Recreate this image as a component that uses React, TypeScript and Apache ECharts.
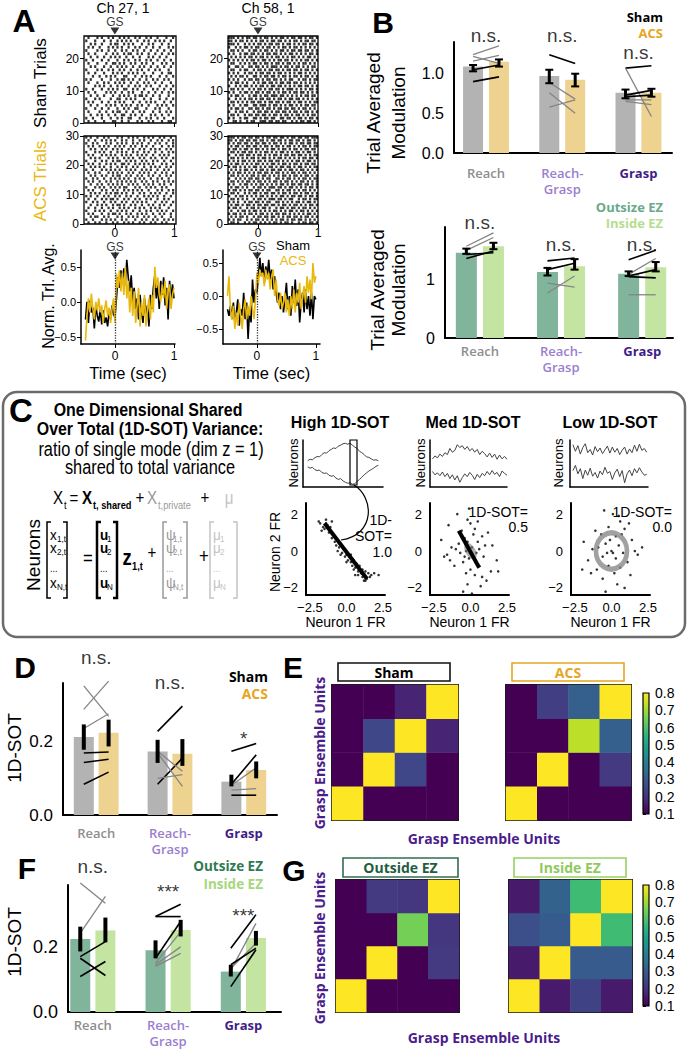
import React, { useEffect, useRef } from "react";
import * as echarts from "echarts";

const FONT = "'Liberation Sans', Arial, sans-serif";
const SEMI = "'Open Sans', 'Liberation Sans', sans-serif";
const NARROW_SCALE = 0.84;

// ---------------- Panel A data ----------------
const traceStart = -0.5;
const traceStep = 0.025;
const traceXTicks = [0, 1];
const traceYTicks = [-0.5, 0, 0.5];
const ch27Sham = [
  -0.25, 0.0, -0.3, 0.02, -0.15, -0.08, -0.38, -0.05, -0.2, -0.28,
  -0.1, -0.32, -0.12, -0.3, -0.22, -0.35, -0.15, -0.25, -0.05, -0.18,
  -0.22, 0.05, 0.35, 0.2, 0.45, 0.3, 0.48, 0.25, 0.6, 0.35,
  0.15, 0.38, 0.0, 0.2, -0.1, 0.05, -0.25, 0.1, -0.15, -0.3,
  0.05, -0.2, -0.05, -0.35, 0.1, -0.1, 0.2, 0.38, 0.05, 0.25,
  -0.1, 0.3, 0.1, 0.35, -0.05, 0.2, -0.25, 0.3, 0.05, 0.25,
  0.05,
];
const ch27Acs = [
  -0.55, -0.2, 0.05, -0.15, 0.12, -0.1, -0.25, 0.0, -0.12, 0.05,
  -0.15, -0.05, -0.3, -0.1, 0.02, -0.2, -0.08, -0.3, -0.1, 0.05,
  -0.3, 0.4, 0.2, 0.45, 0.15, 0.42, 0.1, 0.5, 0.05, 0.3,
  -0.15, 0.2, -0.2, 0.15, -0.3, -0.05, 0.2, -0.35, 0.0, -0.2,
  0.1, -0.35, -0.1, 0.05, -0.25, 0.1, -0.15, 0.5, 0.2, 0.35,
  0.1, 0.0, 0.25, 0.05, 0.3, -0.1, 0.15, 0.25, -0.1, 0.1,
  0.2,
];
const ch58Sham = [
  -0.2, -0.3, -0.15, -0.35, -0.1, -0.4, -0.25, -0.05, -0.45, -0.2,
  -0.3, 0.05, -0.35, -0.1, -0.65, -0.2, -0.4, 0.25, -0.1, 0.1,
  0.05, 0.3, 0.58, 0.3, 0.5, 0.2, 0.45, 0.3, 0.55, 0.25,
  0.4, 0.1, 0.3, 0.05, -0.1, 0.05, -0.2, 0.0, -0.25, -0.05,
  0.2, -0.2, 0.0, -0.3, 0.15, -0.1, 0.25, -0.15, 0.1, -0.4,
  -0.1, 0.05, -0.25, 0.1, -0.2, 0.0, -0.3, 0.05, -0.35, 0.0,
  -0.05,
];
const ch58Acs = [
  0.0, 0.3, -0.2, -0.35, -0.15, -0.5, -0.25, -0.45, -0.1, -0.3,
  -0.5, -0.2, -0.05, -0.35, -0.15, -0.3, 0.0, -0.2, -0.35, -0.05,
  0.35, 0.2, 0.4, 0.3, 0.35, 0.15, 0.4, 0.25, 0.35, 0.1,
  0.3, 0.4, 0.0, 0.25, -0.05, -0.15, 0.05, -0.2, -0.1, 0.05,
  -0.25, -0.05, -0.3, 0.0, -0.2, 0.1, -0.25, 0.05, -0.1, 0.2,
  -0.2, 0.0, 0.15, -0.1, 0.3, 0.05, 0.25, -0.05, 0.5, 0.2,
  0.3,
];

// spike rasters: one string per trial (bottom trial first), '1' = spike in a bin from -0.5 s to 1.0 s
const rasterStart = -0.5;
const rasterEnd = 1.0;
const rasterXTicks = [0, 1];
const shamTrialTicks = [0, 10, 20];
const acsTrialTicks = [0, 10, 20, 30];
const rasterCh27Sham = [
  "0100100010 0011001001 0001010010 1000100110", "1001000100 0100101001 1000100101 0010010001",
  "0010010100 1001001100 1010010001 0100100100", "0100001001 0010110010 0100101000 1001001010",
  "1000100100 1000100101 0011000100 0101000100", "0010010001 0101001010 1001010010 0010101001",
  "0101000100 1001010100 0100100101 0100010010", "1000101000 0100110010 1010001001 0001001001",
  "0010010010 0010010101 0010110100 1001000100", "0100100001 0101001001 0100010010 0100100101",
  "1001000100 1010100110 0101001000 1010010010", "0000101010 0100101001 0010100101 0001001001",
  "0100010010 1001010100 1001001010 0100100010", "1010000100 0100101101 0100100100 1010010100",
  "0001001001 0101000110 0010010101 0001001001", "0100100010 0010101001 0101001000 1000100110",
  "1000010100 1010010100 1001010010 0101000100", "0010100010 0100101010 0100101001 0010010010",
  "0100010001 0011010100 1010010100 1000101001", "1001000100 1000100101 0010100101 0010010010",
  "0010010010 0101010010 0100100010 1001001000", "0100100001 0010100101 1001010010 0100100101",
  "1000010100 1001001010 0101001001 0010010010", "0101001000 1010101001 0010100100 1001000101",
  "0010100100 0101100101 0100010010 1000100100", "1000100010 0100101010 1001001010 0101010010",
  "0100010100 1010010101 0010100101 0010001001",
];
const rasterCh58Sham = [
  "0011010010 1100111011 0110110010 1011011010", "1010010110 0110101101 1001101101 0110101101",
  "0110100101 1011011010 1101011010 1101010110", "1001011010 0101101101 0110110101 1010110101",
  "0101101001 1011010110 1011011011 0101101010", "1010010110 0110111010 1101010110 1010110110",
  "0110101010 1101101011 0110101101 0110101011", "1001010101 1010110110 1011010110 1101010101",
  "0101101001 0110101101 1101101010 1010110110", "1010010110 1011010110 1010110101 1011010101",
  "0110101001 0101101011 0110101110 1010101101", "1001010110 1010110101 1011010101 0110110101",
  "0101101010 0101011011 0101101101 1010101010", "1010100101 1011010110 1101010110 0101101011",
  "0101011010 0110101101 1010110101 1010110101", "1010100101 1010110110 1011010101 0110101010",
  "0110010110 0101101011 0110101101 1010110101", "1001101001 1011010101 1101011010 1101010110",
  "0110010101 0110101101 0110101101 0101101010", "1010101010 1101011010 1011011010 1010110101",
  "0101010101 1010110101 0110101011 0101011010", "1010010110 1101010110 1101010110 1010101101",
  "0110101001 0110101101 0101101011 0110110101", "1001010110 1011010110 1010110101 1010101010",
  "1110100101 0101101011 0110101101 0101101101", "1101011010 1010110101 1011010101 1010110110",
  "1110101011 0110101101 0101101011 0110101101",
];
const rasterCh27Acs = [
  "0100101001 0010100101 0100101001 0100101000", "1001000101 0101001010 0010010100 1010010101",
  "0010110010 1000101001 0101001010 0100100010", "0101000100 1011010010 1001010100 1001010010",
  "1000101010 0100101010 0100100101 0010101001", "0100100100 1010010101 0010101001 0101000100",
  "0010010101 0010110100 1010010010 1001010010", "1001010010 0101001010 0101010100 0100101001",
  "0100100101 0110100101 0010100101 0010010100", "1010010010 1001010010 1001001010 1010010010",
  "0010101001 0101101010 0100101001 0101001001", "0101000101 0010100101 0101010010 0010100101",
  "1000101010 0101010110 0010100101 0100101000", "0010010100 1010101001 0101001010 1001010010",
  "0101001001 0100101010 1010010100 1010010101", "1001010010 0101010101 0010101001 0010100100",
  "0010100101 0010110010 1001010010 1001001010", "0100101000 1010101001 0100101010 0100101001",
  "1001000101 0101010010 1010010101 0010010100", "0010101010 0100101010 0101001001 0101001010",
  "0101001001 0101001101 0010101010 1000101001", "1000100101 0010110010 1010010100 1010010010",
  "0010101000 1010100101 0100101001 0100101001", "0101000101 0101001010 1001010100 1001010100",
  "1000101010 0100101010 0101001010 0100100101", "0010100101 0010101001 0100101001 0101001010",
  "0101001010 1001010100 1010010100 1000100101", "1001010001 0100101010 0101010010 0101001001",
  "0100100101 0101001010 0100101001 0010100101", "1010010010 1000101001 0101001010 1001010010",
];
const rasterCh58Acs = [
  "0110100101 0110101010 1101011010 0101101101", "1010110010 1011010101 0101101011 0110101010",
  "0101011010 0101101101 1010101101 1010110101", "1011010101 1010110101 0110110101 0101011010",
  "0100101101 0110101010 1101010110 1011010101", "1011010010 1101011010 0101101011 0101101010",
  "0101101011 0101101101 1010110101 1010101101", "1010100101 1011010110 0110101010 1101011010",
  "0110101010 0101101011 1011010110 0101101011", "1001011010 1010110101 0101101011 0110101101",
  "0110100101 0110101101 1010110101 1010110101", "1011010101 1011010110 0110101101 0101101010",
  "0101101010 0101101011 1011010110 1010101101", "1010010110 1010110101 0101101011 0110110101",
  "0110101011 0101101010 1101011010 1011010101", "1001010101 1011010110 0110101101 0101101011",
  "0110101010 1101011010 1010110101 1010110101", "1010110101 0101101101 0110101011 0101101010",
  "0101010110 1010110101 1011010110 1011010101", "1011010101 0110101011 0101101101 0110101011",
  "0101101010 1011010101 1010110101 1010110110", "1010101101 0101101011 0110101010 1101011010",
  "0110101010 1101011010 1011010101 0101101101", "1001011011 0101101010 1101011011 0110101011",
  "0110101101 1010101101 0101101010 1101011010", "1011010110 1011010101 1010110101 1010110110",
  "0101101011 0110101101 0110101101 0101101011", "1010110110 1011011010 1101010110 1011011011",
  "1101011011 0110110101 1011010110 1101011010", "1110101101 1011010110 1101101011 0110110111",
];

// ---------------- Bar panels (B, D, F) ----------------
const categories = ["Reach", "Reach-\nGrasp", "Grasp"];
// pairs: [category, first-condition value, second-condition value, gray(1)/black(0)]
const modSham = [1.09, 0.97, 0.76];
const modAcs = [1.15, 0.925, 0.76];
const modShamErr = [[1.03, 1.11], [0.88, 1.05], [0.69, 0.8]];
const modAcsErr = [[1.09, 1.18], [0.84, 1.0], [0.71, 0.81]];
const modPairs = [
  [0, 1.24, 1.35, 1], [0, 1.16, 1.23, 1], [0, 1.22, 1.13, 1], [0, 1.05, 1.11, 0], [0, 0.9, 0.96, 0],
  [1, 1.24, 1.13, 0], [1, 0.89, 0.68, 1], [1, 0.58, 0.67, 1], [1, 0.76, 0.5, 1],
  [2, 1.07, 1.1, 0], [2, 1.07, 0.46, 1], [2, 0.73, 0.79, 0], [2, 0.71, 0.73, 0], [2, 0.67, 0.67, 1], [2, 0.65, 0.61, 1],
];
const modSig = ["n.s.", "n.s.", "n.s."];
const modSigY = [1.48, 1.48, 1.27];
const modTicks = [0, 0.5, 1.0];

const ezModOut = [1.46, 1.13, 1.1];
const ezModIn = [1.57, 1.23, 1.21];
const ezModOutErr = [[1.44, 1.53], [1.07, 1.2], [1.06, 1.14]];
const ezModInErr = [[1.52, 1.63], [1.17, 1.35], [1.14, 1.3]];
const ezModPairs = [
  [0, 1.57, 1.8, 1], [0, 1.5, 1.72, 1], [0, 1.36, 1.49, 0], [0, 1.43, 1.46, 0],
  [1, 1.32, 1.37, 0], [1, 1.17, 1.28, 0], [1, 0.94, 0.87, 1], [1, 0.77, 1.06, 1],
  [2, 1.34, 1.5, 0], [2, 1.09, 1.36, 1], [2, 1.05, 1.03, 0], [2, 1.06, 1.17, 0], [2, 0.74, 0.74, 1],
];
const ezModSig = ["n.s.", "n.s.", "n.s."];
const ezModSigY = [1.98, 1.6, 1.6];
const ezModTicks = [0, 1];

const sotSham = [0.213, 0.173, 0.091];
const sotAcs = [0.224, 0.167, 0.123];
const sotShamErr = [[0.178, 0.247], [0.142, 0.205], [0.078, 0.11]];
const sotAcsErr = [[0.187, 0.26], [0.134, 0.207], [0.1, 0.146]];
const sotPairs = [
  [0, 0.352, 0.269, 1], [0, 0.288, 0.365, 1], [0, 0.236, 0.276, 1], [0, 0.169, 0.172, 0], [0, 0.143, 0.152, 0], [0, 0.084, 0.117, 0],
  [1, 0.228, 0.297, 0], [1, 0.084, 0.155, 0], [1, 0.169, 0.078, 1], [1, 0.1, 0.11, 1], [1, 0.174, 0.119, 1],
  [2, 0.174, 0.195, 0], [2, 0.084, 0.164, 0], [2, 0.081, 0.129, 1], [2, 0.068, 0.072, 1], [2, 0.054, 0.054, 0],
];
const sotSig = ["n.s.", "n.s.", "*"];
const sotSigY = [0.43, 0.362, 0.208];
const sotTicks = [0, 0.2];

const ezSotOut = [0.224, 0.19, 0.124];
const ezSotIn = [0.25, 0.252, 0.227];
const ezSotOutErr = [[0.186, 0.262], [0.165, 0.22], [0.109, 0.145]];
const ezSotInErr = [[0.214, 0.29], [0.232, 0.283], [0.204, 0.249]];
const ezSotPairs = [
  [0, 0.396, 0.334, 1], [0, 0.242, 0.355, 1], [0, 0.17, 0.216, 0], [0, 0.165, 0.112, 0], [0, 0.109, 0.155, 0],
  [1, 0.293, 0.331, 0], [1, 0.293, 0.293, 0], [1, 0.165, 0.278, 0], [1, 0.145, 0.2, 1], [1, 0.14, 0.18, 1], [1, 0.15, 0.246, 1],
  [2, 0.196, 0.299, 0], [2, 0.078, 0.191, 0], [2, 0.134, 0.211, 1], [2, 0.128, 0.272, 1], [2, 0.145, 0.196, 0],
];
const ezSotSig = ["n.s.", "***", "***"];
const ezSotSigY = [0.446, 0.369, 0.295];

// ---------------- Panel C data ----------------
const highTop = [5.6, 5.9, 5.8, 6.2, 6.5, 6.4, 6.9, 7.3, 7.2, 7.7, 8.0, 8.3, 8.2, 8.7, 8.9, 9.2, 9.3, 9.1, 9.3, 8.9, 8.5, 8.2, 7.6, 7.3, 6.9, 6.4, 6.3, 6.0, 5.7, 5.8, 5.6];
const highBottom = [4.3, 4.0, 4.2, 3.7, 3.5, 3.6, 3.1, 2.9, 3.0, 2.5, 2.3, 2.4, 1.9, 1.6, 1.8, 1.3, 1.0, 0.8, 0.9, 0.6, 0.7, 1.2, 1.6, 2.1, 2.6, 3.0, 3.4, 3.7, 4.0, 4.4, 4.6];
const medTop = [6.0, 6.6, 6.2, 7.0, 6.5, 7.3, 6.9, 8.2, 7.4, 7.8, 9.0, 8.4, 8.8, 8.0, 8.6, 7.7, 8.2, 7.4, 8.0, 6.9, 7.6, 7.1, 6.4, 7.2, 6.3, 7.0, 5.9, 6.8, 6.0, 6.5, 5.9];
const medBottom = [3.3, 2.6, 3.0, 2.4, 3.2, 2.2, 2.9, 1.8, 2.6, 1.5, 2.4, 1.0, 2.0, 2.8, 2.2, 3.1, 2.5, 1.6, 2.7, 2.0, 2.9, 2.4, 3.3, 2.6, 3.5, 2.7, 3.1, 2.2, 3.4, 2.9, 2.5];
const lowTop = [9.0, 7.6, 8.8, 7.0, 8.4, 9.2, 7.3, 8.0, 6.8, 8.6, 7.5, 8.3, 7.1, 7.9, 8.7, 7.2, 8.5, 7.4, 8.2, 6.9, 7.8, 8.5, 7.0, 8.1, 7.3, 8.9, 7.6, 9.1, 7.8, 8.2, 7.4];
const lowBottom = [3.5, 4.6, 2.8, 3.9, 1.8, 3.6, 2.5, 4.0, 2.3, 3.1, 1.9, 3.4, 2.6, 4.2, 2.9, 3.3, 1.6, 3.0, 3.8, 2.2, 3.5, 0.9, 2.8, 3.6, 2.4, 3.9, 3.0, 4.1, 3.2, 2.5, 2.7];
const highPts = [
  [-1.8, 1.5], [-1.6, 1.3], [-1.4, 1.5], [-1.7, 1.1], [-1.5, 1.2], [-1.3, 1.4], [-1.2, 1.0], [-1.1, 1.3], [-0.9, 0.9], [-1.0, 0.7],
  [-0.8, 0.5], [-0.6, 0.6], [-0.7, 0.3], [-0.5, 0.2], [-0.4, 0.4], [-0.3, -0.1], [-0.6, 0.0], [-0.2, 0.1], [-0.1, -0.3], [0.0, -0.2],
  [0.1, -0.5], [0.2, -0.3], [0.3, -0.6], [0.0, -0.6], [0.4, -0.8], [0.5, -0.5], [0.6, -0.9], [0.7, -0.7], [0.8, -1.1], [0.5, -1.0],
  [0.9, -0.8], [1.0, -1.2], [1.1, -1.0], [0.8, -1.3], [1.2, -1.3], [1.3, -1.1], [1.1, -1.4], [1.4, -1.5], [1.5, -1.2], [1.2, -1.6],
  [1.6, -1.4], [1.7, -1.3], [1.3, -1.6], [2.2, -1.3], [1.9, -1.2], [0.6, -1.3], [-0.4, -0.2], [0.3, -0.2], [-1.4, 1.7], [-1.9, 1.6], [-1.0, 1.6],
];
const medPts = [
  [-0.9, 2.0], [-0.2, 1.7], [0.0, 1.5], [-1.5, 1.4], [0.3, 1.2], [-0.6, 1.1], [0.8, 0.8], [1.2, 1.0], [-2.0, 0.6], [-0.4, 0.7],
  [0.5, 0.5], [1.5, 0.3], [-1.3, 0.2], [-1.6, -0.2], [-1.0, 0.1], [-0.7, -0.1], [-0.3, 0.0], [0.1, 0.2], [0.2, -0.3], [-0.1, -0.4],
  [0.4, -0.1], [0.9, -0.3], [1.8, -0.5], [-0.5, -0.6], [-1.1, -0.8], [0.6, -0.8], [0.0, -1.0], [1.4, -1.1], [-0.3, -1.2], [0.3, -1.3],
  [0.8, -1.4], [-0.2, -1.8], [0.7, -1.9], [-0.5, -2.2], [1.1, -1.6], [-0.8, 0.4], [0.2, 0.9], [-1.4, -0.5], [1.0, 0.3], [0.5, 1.6],
  [-0.1, 2.3], [0.1, -2.3], [-1.8, -0.3], [0.6, 0.1], [-0.4, -0.3], [1.9, -1.1], [-0.2, 0.5],
];
const lowPts = [
  [-0.5, 2.2], [0.1, 2.0], [0.6, 1.6], [-0.2, 1.3], [1.2, 1.5], [0.9, 1.2], [-1.1, 1.1], [-0.7, 0.9], [0.3, 0.8], [1.4, 0.6],
  [-1.9, 0.5], [-0.4, 0.4], [0.5, 0.3], [2.1, 0.2], [-1.3, 0.1], [0.0, 0.0], [0.8, -0.1], [1.6, 0.0], [-0.6, -0.3], [0.3, -0.4],
  [-1.6, -0.5], [-2.0, -1.0], [1.1, -0.6], [-0.2, -0.8], [0.6, -0.9], [-1.0, -1.0], [0.2, -1.2], [1.3, -1.3], [-0.6, -1.5], [0.4, -1.8],
  [-0.4, -2.2], [0.9, -2.0], [-0.1, 0.6], [0.1, -0.1], [-0.9, 0.2], [1.8, -0.2], [-0.3, -0.1], [0.7, 0.9], [-1.4, -1.2], [0.5, 1.9],
];
const highAxisLine = [[-1.5, 1.5], [1.4, -1.5]];
const medAxisLine = [[-0.8, 1.1], [0.6, -0.9]];
const scatterXTicks = [-2.5, 0, 2.5];
const scatterYTicks = [-2, 0, 2];

// ---------------- Heatmaps (E, G): rows listed bottom -> top ----------------
const ensembleUnits = ["1", "2", "3", "4"];
const shamCorr = [[0.8, 0.1, 0.1, 0.1], [0.1, 0.8, 0.25, 0.1], [0.1, 0.25, 0.8, 0.17], [0.1, 0.1, 0.17, 0.8]];
const acsCorr = [[0.8, 0.1, 0.1, 0.1], [0.1, 0.8, 0.1, 0.22], [0.1, 0.1, 0.73, 0.31], [0.1, 0.23, 0.31, 0.8]];
const outsideCorr = [[0.8, 0.1, 0.1, 0.1], [0.1, 0.8, 0.1, 0.22], [0.1, 0.1, 0.65, 0.21], [0.1, 0.22, 0.21, 0.8]];
const insideCorr = [[0.8, 0.15, 0.24, 0.15], [0.15, 0.8, 0.3, 0.3], [0.27, 0.3, 0.8, 0.58], [0.15, 0.32, 0.58, 0.8]];
const colorbarTicks = [0.1, 0.2, 0.3, 0.4, 0.5, 0.6, 0.7, 0.8];
const VIRIDIS = ["#440154", "#482878", "#3e4989", "#31688e", "#26828e", "#1f9e89", "#35b779", "#6ece58", "#b5de2b", "#fde725"];

const C_SHAM = "#b3b3b3";
const C_ACS = "#eed290";
const C_OUT = "#80b49b";
const C_IN = "#c4e4a2";
const C_ACS_TXT = "#e6a523";
const C_YEL = "#e8b80c";

const signed = (v: number, d: number) => (v < 0 ? "\u2212" : "") + Math.abs(v).toFixed(d);

function buildOption() {
  const grid: any[] = [];
  const xAxis: any[] = [];
  const yAxis: any[] = [];
  const series: any[] = [];
  const graphic: any[] = [];
  const heatSeries: number[] = [];

  const addGrid = (g: any, x: any, y: any) => {
    const i = grid.length;
    grid.push({ outerBoundsMode: "none", containLabel: false, ...g });
    xAxis.push({ gridIndex: i, ...x });
    yAxis.push({ gridIndex: i, ...y });
    return i;
  };
  const axis = (o: any) => ({
    type: "value",
    min: o.min,
    max: o.max,
    splitLine: { show: false },
    axisLine: { show: o.line !== false, onZero: false, lineStyle: { color: "#000", width: o.lw ?? 1.5 } },
    axisTick: o.ticks
      ? { show: true, customValues: o.ticks, length: o.tickLen ?? 4, lineStyle: { color: "#000", width: 1 } }
      : { show: false },
    axisLabel: o.labels
      ? { show: true, customValues: o.labels, formatter: o.fmt, fontSize: o.fs ?? 12, color: "#000", margin: o.margin ?? 6, fontFamily: FONT }
      : { show: false },
    ...(o.extra || {}),
  });
  const T = (text: string, x: number, y: number, o: any = {}) => {
    graphic.push({
      type: "text", x, y, rotation: o.rot || 0, scaleX: o.sx || 1, silent: true, z: 100,
      style: {
        text, fill: o.color || "#000", fontSize: o.size || 14, fontFamily: o.family || FONT,
        fontWeight: o.weight || "normal", align: o.align || "center", verticalAlign: o.va || "middle",
        lineHeight: o.lh,
      },
    });
  };
  const gsMarker = (gi: number, yTop: number, dy: number) => ({
    type: "scatter", xAxisIndex: gi, yAxisIndex: gi, clip: false, silent: true, z: 5,
    data: [[0, yTop]], symbol: "triangle", symbolRotate: 180, symbolSize: [9, 7], symbolOffset: [0, dy],
    itemStyle: { color: "#000" },
    label: { show: true, formatter: "GS", position: "top", distance: 0, fontSize: 12, color: "#000", fontFamily: FONT },
  });

  // ---------- Panel A ----------
  const raster = (rows: string[], left: number, top: number, w: number, h: number, xmin: number, xmax: number, ymax: number, yTicks: number[], showX: boolean, gs: boolean) => {
    const gi = addGrid(
      { left, top, width: w, height: h, show: true, borderColor: "#000", borderWidth: 1.3, backgroundColor: "transparent" },
      axis({ min: xmin, max: xmax, line: false, ticks: rasterXTicks, labels: showX ? rasterXTicks : null, fmt: (v: number) => String(v), fs: 12, margin: 3 }),
      axis({ min: 0, max: ymax, line: false, ticks: yTicks, labels: yTicks, fmt: (v: number) => String(v), fs: 12, margin: 5 })
    );
    const pts: number[][] = [];
    rows.forEach((s, r) => {
      const b = s.replace(/\s/g, "");
      const n = b.length;
      for (let j = 0; j < n; j++) if (b[j] === "1") pts.push([rasterStart + ((j + 0.5) * (rasterEnd - rasterStart)) / n, r + 0.5]);
    });
    series.push({ type: "scatter", xAxisIndex: gi, yAxisIndex: gi, silent: true, data: pts, symbol: "rect", symbolSize: [2.2, (h / ymax) * 0.85], itemStyle: { color: "#000" } });
    if (gs) series.push(gsMarker(gi, ymax, -5));
  };
  raster(rasterCh27Sham, 84, 36, 92, 87, -0.52, 1.03, 27, shamTrialTicks, false, true);
  raster(rasterCh58Sham, 228, 36, 90, 87, -0.5, 1.0, 27, shamTrialTicks, false, true);
  raster(rasterCh27Acs, 84, 136, 92, 88, -0.52, 1.03, 30, acsTrialTicks, true, false);
  raster(rasterCh58Acs, 228, 136, 90, 88, -0.5, 1.0, 30, acsTrialTicks, true, false);

  const tracePanel = (sham: number[], acs: number[], left: number, w: number, xmin: number, xmax: number, ymin: number, ymax: number) => {
    const gi = addGrid(
      { left, top: 250, width: w, height: 94 },
      axis({
        min: xmin, max: xmax, ticks: traceXTicks, labels: traceXTicks, fmt: (v: number) => String(v), fs: 12, margin: 6,
        extra: { name: "Time (sec)", nameLocation: "middle", nameGap: 20, nameTextStyle: { fontSize: 16.5, color: "#000", fontFamily: FONT } },
      }),
      axis({ min: ymin, max: ymax, ticks: traceYTicks, labels: traceYTicks, fmt: (v: number) => signed(v, 1), fs: 11, margin: 5 })
    );
    const toPts = (a: number[]) => a.map((v, k) => [traceStart + k * traceStep, v]);
    series.push({
      type: "line", xAxisIndex: gi, yAxisIndex: gi, silent: true, data: toPts(sham), showSymbol: false, symbol: "none",
      lineStyle: { color: "#000", width: 1.6 },
      markLine: { silent: true, symbol: ["none", "none"], label: { show: false }, lineStyle: { type: "dotted", color: "#333", width: 1.3 }, data: [{ xAxis: 0 }] },
    });
    series.push({ type: "line", xAxisIndex: gi, yAxisIndex: gi, silent: true, data: toPts(acs), showSymbol: false, symbol: "none", lineStyle: { color: C_YEL, width: 1.6 } });
    series.push(gsMarker(gi, ymax, 6));
  };
  tracePanel(ch27Sham, ch27Acs, 81, 94, -0.576, 1.017, -0.6, 0.74);
  tracePanel(ch58Sham, ch58Acs, 223, 97, -0.576, 1.07, -0.727, 0.697);

  T("A", 24, 21, { size: 32, weight: "bold" });
  T("Ch 27, 1", 123, 8, { size: 14 });
  T("Ch 58, 1", 268, 8, { size: 14 });
  T("Sham Trials", 40, 83, { size: 17, rot: Math.PI / 2 });
  T("ACS Trials", 40, 181, { size: 17, rot: Math.PI / 2, color: C_YEL });
  T("Norm. Trl. Avg.", 48, 296, { size: 16, rot: Math.PI / 2 });
  T("Sham", 293, 245, { size: 13 });
  T("ACS", 293, 260, { size: 13, color: C_YEL });

  // ---------- bar panels ----------
  const catColors = ["#8e8e8e", "#9a7ecf", "#3f1d87"];
  const catRich: any = {};
  catColors.forEach((c, i) => {
    catRich["c" + i] = { color: c, fontSize: 13, fontFamily: SEMI, fontWeight: i === 2 ? 700 : 600, lineHeight: 16 };
  });
  const catFormatter = (v: number) => {
    const i = Math.round(v);
    return categories[i].split("\n").map((l) => "{c" + i + "|" + l + "}").join("\n");
  };
  const barPanel = (p: any) => {
    const gi = addGrid(
      { left: p.left, top: p.top, width: p.width, height: p.height },
      {
        type: "value", min: p.xmin, max: p.xmax, splitLine: { show: false },
        axisLine: { show: true, onZero: false, lineStyle: { color: "#000", width: 2 } }, axisTick: { show: false },
        axisLabel: { show: true, customValues: [0, 1, 2], margin: p.catMargin, formatter: catFormatter, rich: catRich },
      },
      {
        type: "value", min: 0, max: p.ymax, splitLine: { show: false },
        axisLine: { show: true, onZero: false, lineStyle: { color: "#000", width: 2 } }, axisTick: { show: false },
        axisLabel: { show: true, customValues: p.yTicks, formatter: p.yFmt, fontSize: p.yFont, color: "#000", margin: p.yMargin, fontFamily: FONT },
      }
    );
    const off = p.off;
    const bars: number[][] = [];
    for (let i = 0; i < 3; i++) {
      bars.push([i - off, p.a[i], 0]);
      bars.push([i + off, p.b[i], 1]);
    }
    series.push({
      type: "custom", xAxisIndex: gi, yAxisIndex: gi, silent: true, data: bars, z: 2,
      renderItem: (_: any, api: any) => {
        const x = api.value(0), y = api.value(1), c = api.value(2);
        const t = api.coord([x, y]);
        const b = api.coord([x, 0]);
        return { type: "rect", shape: { x: t[0] - p.barW / 2, y: t[1], width: p.barW, height: b[1] - t[1] }, style: { fill: p.colors[c] } };
      },
    });
    const segs = p.pairs.map((q: number[]) => [q[0] - off, q[1], q[0] + off, q[2], q[3]]);
    series.push({
      type: "custom", xAxisIndex: gi, yAxisIndex: gi, silent: true, data: segs, z: 3,
      renderItem: (_: any, api: any) => {
        const a = api.coord([api.value(0), api.value(1)]);
        const b = api.coord([api.value(2), api.value(3)]);
        const g = api.value(4);
        return { type: "line", shape: { x1: a[0], y1: a[1], x2: b[0], y2: b[1] }, style: { stroke: g ? "#858585" : "#000", lineWidth: g ? 1.3 : 1.6 } };
      },
    });
    const errs: number[][] = [];
    for (let i = 0; i < 3; i++) {
      errs.push([i - off, p.ae[i][0], p.ae[i][1]]);
      errs.push([i + off, p.be[i][0], p.be[i][1]]);
    }
    series.push({
      type: "custom", xAxisIndex: gi, yAxisIndex: gi, silent: true, data: errs, z: 4,
      renderItem: (_: any, api: any) => {
        const lo = api.coord([api.value(0), api.value(1)]);
        const hi = api.coord([api.value(0), api.value(2)]);
        const ch: any[] = [{ type: "line", shape: { x1: lo[0], y1: lo[1], x2: hi[0], y2: hi[1] }, style: { stroke: "#000", lineWidth: p.errW } }];
        if (p.cap) {
          [lo, hi].forEach((e) => ch.push({ type: "line", shape: { x1: e[0] - p.cap / 2, y1: e[1], x2: e[0] + p.cap / 2, y2: e[1] }, style: { stroke: "#000", lineWidth: 2 } }));
        }
        return { type: "group", children: ch };
      },
    });
    series.push({
      type: "scatter", xAxisIndex: gi, yAxisIndex: gi, silent: true, clip: false, symbolSize: 1, z: 6,
      itemStyle: { color: "rgba(0,0,0,0)" },
      label: { show: true, position: "inside", fontSize: 19, color: "#000", fontFamily: FONT },
      data: p.sig.map((s: string, i: number) => ({ value: [i, p.sigY[i]], label: { formatter: s } })),
    });
  };

  // B top
  barPanel({
    left: 454, top: 42, width: 218, height: 111, xmin: -0.42, xmax: 2.44, ymax: 1.4, yTicks: modTicks,
    yFmt: (v: number) => v.toFixed(1), yFont: 16, yMargin: 10, catMargin: 12,
    a: modSham, b: modAcs, ae: modShamErr, be: modAcsErr, pairs: modPairs, colors: [C_SHAM, C_ACS],
    off: 0.17, barW: 20, errW: 3, cap: 8, sig: modSig, sigY: modSigY,
  });
  // B bottom
  barPanel({
    left: 445, top: 227, width: 228, height: 111, xmin: -0.43, xmax: 2.38, ymax: 1.9, yTicks: ezModTicks,
    yFmt: (v: number) => v.toFixed(0), yFont: 16, yMargin: 10, catMargin: 5,
    a: ezModOut, b: ezModIn, ae: ezModOutErr, be: ezModInErr, pairs: ezModPairs, colors: [C_OUT, C_IN],
    off: 0.167, barW: 21, errW: 3, cap: 8, sig: ezModSig, sigY: ezModSigY,
  });
  // D
  barPanel({
    left: 63, top: 683, width: 214, height: 132, xmin: -0.45, xmax: 2.45, ymax: 0.36, yTicks: sotTicks,
    yFmt: (v: number) => v.toFixed(1), yFont: 17, yMargin: 10, catMargin: 10,
    a: sotSham, b: sotAcs, ae: sotShamErr, be: sotAcsErr, pairs: sotPairs, colors: [C_SHAM, C_ACS],
    off: 0.168, barW: 20, errW: 4, cap: 0, sig: sotSig, sigY: sotSigY,
  });
  // F
  barPanel({
    left: 68, top: 885, width: 213, height: 127, xmin: -0.33, xmax: 2.5, ymax: 0.39, yTicks: sotTicks,
    yFmt: (v: number) => v.toFixed(1), yFont: 18, yMargin: 10, catMargin: 5,
    a: ezSotOut, b: ezSotIn, ae: ezSotOutErr, be: ezSotInErr, pairs: ezSotPairs, colors: [C_OUT, C_IN],
    off: 0.167, barW: 20, errW: 4, cap: 0, sig: ezSotSig, sigY: ezSotSigY,
  });

  T("B", 383, 22, { size: 30, weight: "bold" });
  T("Sham", 663, 17, { size: 13, weight: "bold", align: "right", family: SEMI });
  T("ACS", 663, 33, { size: 13, weight: "bold", align: "right", family: SEMI, color: C_ACS_TXT });
  T("Trial Averaged", 373, 113, { size: 19, rot: Math.PI / 2 });
  T("Modulation", 398, 113, { size: 19, rot: Math.PI / 2 });
  T("Outsize EZ", 663, 207, { size: 13, weight: "bold", align: "right", family: SEMI, color: "#6aa98b" });
  T("Inside EZ", 663, 223, { size: 13, weight: "bold", align: "right", family: SEMI, color: "#b5de8e" });
  T("Trial Averaged", 377, 290, { size: 19, rot: Math.PI / 2 });
  T("Modulation", 398, 290, { size: 19, rot: Math.PI / 2 });

  T("D", 25, 667, { size: 30, weight: "bold" });
  T("Sham", 268, 676, { size: 14, weight: "bold", align: "right", family: SEMI });
  T("ACS", 268, 693, { size: 14, weight: "bold", align: "right", family: SEMI, color: C_ACS_TXT });
  T("1D-SOT", 14, 748, { size: 19, rot: Math.PI / 2 });
  T("F", 27, 868, { size: 30, weight: "bold" });
  T("Outsize EZ", 263, 866, { size: 13.5, weight: "bold", align: "right", family: SEMI, color: "#2f7a52" });
  T("Inside EZ", 263, 884, { size: 13.5, weight: "bold", align: "right", family: SEMI, color: "#a6d77a" });
  T("1D-SOT", 14, 942, { size: 19, rot: Math.PI / 2 });

  // ---------- Panel C ----------
  const NS = NARROW_SCALE;
  graphic.push({ type: "rect", silent: true, shape: { x: 3, y: 392, width: 682, height: 245, r: 14 }, style: { fill: "none", stroke: "#6b6b6b", lineWidth: 2.5 } });
  T("C", 21, 410, { size: 33, weight: "bold" });
  T("One Dimensional Shared", 148, 410, { size: 19, weight: "bold", sx: NS });
  T("Over Total (1D-SOT) Variance:", 150, 429, { size: 19, weight: "bold", sx: NS });
  T("ratio of single mode (dim z = 1)", 151, 450, { size: 19.5, sx: NS });
  T("shared to total variance", 150, 468, { size: 19.5, sx: NS });
  // equation
  const eq = (t: string, x: number, y: number, size: number, color = "#000", align = "center", weight = "normal", sx = NS) =>
    T(t, x, y, { size, color, align, weight, sx });
  eq("X", 58, 498, 18);
  eq("t", 64, 505, 11, "#000", "left");
  eq("=", 74, 498, 18);
  eq("X", 87, 498, 18, "#000", "center", "bold");
  eq("t, shared", 93, 505, 11, "#000", "left", "bold");
  eq("+", 140, 498, 18);
  eq("X", 152, 498, 18, "#999");
  eq("t,private", 158, 505, 11, "#999", "left");
  eq("+", 205, 498, 18);
  eq("\u03bc", 229, 498, 18, "#c4c4c4");
  T("Neurons", 33, 555, { size: 19, rot: Math.PI / 2 });
  const rowsY = [535, 548, 568, 583];
  const matrix = (l: number, r: number, main: string, subs: string[], color: string, lw: number, weight = "normal") => {
    graphic.push({ type: "polyline", silent: true, shape: { points: [[l + 4, 522], [l, 522], [l, 598], [l + 4, 598]] }, style: { stroke: color, lineWidth: lw, fill: "none" } });
    graphic.push({ type: "polyline", silent: true, shape: { points: [[r - 4, 522], [r, 522], [r, 598], [r - 4, 598]] }, style: { stroke: color, lineWidth: lw, fill: "none" } });
    [0, 1, 3].forEach((k, n) => {
      eq(main, l + 3, rowsY[k], 15, color, "left", weight, 0.9);
      eq(subs[n], l + 10, rowsY[k] + 4, 9, color, "left", "normal", 0.9);
    });
    eq("...", l + 3, rowsY[2], 10, color, "left", "normal", 0.9);
  };
  matrix(47, 67, "x", ["1,t", "2,t", "N,t"], "#000", 1.5);
  eq("=", 88, 558, 20);
  matrix(97, 117, "u", ["1", "2", "N"], "#000", 2.5, "bold");
  eq("z", 127, 557, 22, "#000", "center", "bold");
  eq("1,t", 132, 566, 11, "#000", "left", "bold");
  eq("+", 152, 553, 18);
  matrix(163, 187, "\u03c8", ["1,t", "2,t", "N,t"], "#999", 1.5);
  eq("+", 204, 556, 20);
  matrix(210, 237, "\u03bc", ["1", "2", "N"], "#c4c4c4", 1.5);

  T("High 1D-SOT", 340, 422, { size: 16, weight: "bold" });
  T("Med 1D-SOT", 473, 422, { size: 16, weight: "bold" });
  T("Low 1D-SOT", 610, 422, { size: 16, weight: "bold" });

  const miniPanel = (left: number, w: number, xmin: number, xmax: number, top: number[], bottom: number[], labelX: number) => {
    const gi = addGrid({ left, top: 440, width: w, height: 47 }, axis({ min: xmin, max: xmax }), axis({ min: 0, max: 10 }));
    [top, bottom].forEach((a) =>
      series.push({ type: "line", xAxisIndex: gi, yAxisIndex: gi, silent: true, symbol: "none", showSymbol: false, data: a.map((v, k) => [k, v]), lineStyle: { color: "#444", width: 1 } })
    );
    T("Neurons", labelX, 463, { size: 13, rot: Math.PI / 2 });
  };
  miniPanel(303, 80, -2, 32, highTop, highBottom, 293);
  miniPanel(430, 77, -1, 30, medTop, medBottom, 420);
  miniPanel(570, 78, -1.2, 30.5, lowTop, lowBottom, 558);

  const scatterPanel = (left: number, pts: number[][], extra: (gi: number) => void) => {
    const gi = addGrid(
      { left, top: 503, width: 79, height: 92 },
      axis({
        min: -2.77, max: 2.64, lw: 2, labels: scatterXTicks, fmt: (v: number) => signed(v, 1), fs: 13, margin: 6,
        extra: { name: "Neuron 1 FR", nameLocation: "middle", nameGap: 20, nameTextStyle: { fontSize: 14, color: "#000", fontFamily: FONT } },
      }),
      axis({ min: -2.38, max: 2.6, lw: 2, labels: scatterYTicks, fmt: (v: number) => signed(v, 0), fs: 13, margin: 8 })
    );
    series.push({ type: "scatter", xAxisIndex: gi, yAxisIndex: gi, silent: true, data: pts, symbolSize: 2.6, itemStyle: { color: "#000" } });
    extra(gi);
  };
  scatterPanel(306, highPts, (gi) => {
    series.push({ type: "line", xAxisIndex: gi, yAxisIndex: gi, silent: true, symbol: "none", data: highAxisLine, lineStyle: { color: "#000", width: 4 }, z: 4 });
  });
  scatterPanel(430, medPts, (gi) => {
    series.push({ type: "scatter", xAxisIndex: gi, yAxisIndex: gi, silent: true, data: [[0, 0]], symbol: "circle", symbolSize: [10, 18], symbolRotate: 30, itemStyle: { color: "rgba(120,120,120,0.75)" }, z: 3 });
    series.push({ type: "line", xAxisIndex: gi, yAxisIndex: gi, silent: true, symbol: "none", data: medAxisLine, lineStyle: { color: "#000", width: 4 }, z: 4 });
  });
  scatterPanel(571, lowPts, (gi) => {
    series.push({ type: "scatter", xAxisIndex: gi, yAxisIndex: gi, silent: true, data: [[0, 0]], symbol: "circle", symbolSize: [31, 36], itemStyle: { color: "rgba(0,0,0,0)", borderColor: "#8a8a8a", borderWidth: 5 }, z: 3 });
  });
  T("Neuron 2 FR", 275, 552, { size: 14, rot: Math.PI / 2 });
  T("1D-\nSOT=\n1.0", 392, 512, { size: 14, align: "right", va: "top", lh: 16 });
  T("1D-SOT=\n0.5", 528, 504, { size: 14, align: "right", va: "top", lh: 15.5 });
  T("1D-SOT=\n0.0", 672, 504, { size: 14, align: "right", va: "top", lh: 15.5 });
  graphic.push({ type: "rect", silent: true, z: 100, shape: { x: 350, y: 440, width: 7, height: 45 }, style: { fill: "none", stroke: "#000", lineWidth: 1.2 } });
  graphic.push({ type: "bezierCurve", silent: true, z: 100, shape: { x1: 354, y1: 485, cpx1: 374, cpy1: 497, cpx2: 376, cpy2: 535, x2: 341, y2: 540 }, style: { fill: "none", stroke: "#000", lineWidth: 1.2 } });

  // ---------- Heatmaps E, G ----------
  const heat = (left: number, top: number, w: number, h: number, m: number[][]) => {
    const gi = addGrid(
      { left, top, width: w, height: h, show: true, borderColor: "#1a1a1a", borderWidth: 2, backgroundColor: "transparent" },
      { type: "category", data: ensembleUnits, show: false },
      { type: "category", data: ensembleUnits, show: false }
    );
    const cells: number[][] = [];
    m.forEach((row, y) => row.forEach((v, x) => cells.push([x, y, v])));
    heatSeries.push(series.length);
    series.push({ type: "heatmap", xAxisIndex: gi, yAxisIndex: gi, silent: true, data: cells, itemStyle: { borderWidth: 0 } });
  };
  const colorbar = (left: number, top: number, h: number) => {
    const gi = addGrid(
      { left, top, width: 6, height: h },
      { type: "value", min: 0, max: 1, show: false },
      {
        type: "value", min: 0.1, max: 0.8, position: "right", splitLine: { show: false }, axisLine: { show: false },
        axisTick: { show: true, customValues: colorbarTicks, length: 3, lineStyle: { color: "#000" } },
        axisLabel: { show: true, customValues: colorbarTicks, formatter: (v: number) => v.toFixed(1), fontSize: 14, color: "#000", margin: 6, fontFamily: FONT },
      }
    );
    series.push({
      type: "custom", xAxisIndex: gi, yAxisIndex: gi, silent: true, data: [[0, 0.1, 1, 0.8]],
      renderItem: (_: any, api: any) => {
        const a = api.coord([api.value(0), api.value(3)]);
        const b = api.coord([api.value(2), api.value(1)]);
        return {
          type: "rect", shape: { x: a[0], y: a[1], width: b[0] - a[0], height: b[1] - a[1] },
          style: {
            fill: { type: "linear", x: 0, y: 1, x2: 0, y2: 0, colorStops: VIRIDIS.map((c, k) => ({ offset: k / (VIRIDIS.length - 1), color: c })) },
            stroke: "#000", lineWidth: 1.2,
          },
        };
      },
    });
  };
  heat(332, 685, 126, 135, shamCorr);
  heat(506, 685, 125, 135, acsCorr);
  colorbar(643, 693, 121);
  heat(336, 880, 123, 132, outsideCorr);
  heat(509, 880, 123, 132, insideCorr);
  colorbar(643, 885, 121);

  const titleBox = (x: number, y: number, w: number, h: number, text: string, stroke: string, color: string) => {
    graphic.push({ type: "rect", silent: true, shape: { x, y, width: w, height: h }, style: { fill: "#fff", stroke, lineWidth: 1.6 } });
    T(text, x + w / 2, y + h / 2, { size: 14, weight: "bold", family: SEMI, color });
  };
  T("E", 293, 667, { size: 30, weight: "bold" });
  titleBox(338, 663, 112, 18, "Sham", "#111", "#000");
  titleBox(512, 663, 112, 18, "ACS", C_ACS_TXT, C_ACS_TXT);
  T("Grasp Ensemble Units", 319, 753, { size: 14, weight: "bold", family: SEMI, color: "#4b1d8c", rot: Math.PI / 2 });
  T("Grasp Ensemble Units", 484, 838, { size: 14, weight: "bold", family: SEMI, color: "#4b1d8c" });
  T("G", 294, 870, { size: 30, weight: "bold" });
  titleBox(343, 858, 115, 19, "Outside EZ", "#2f6f4f", "#1e5e3e");
  titleBox(514, 858, 112, 19, "Inside EZ", "#97d060", "#8fc95c");
  T("Grasp Ensemble Units", 319, 948, { size: 14, weight: "bold", family: SEMI, color: "#4b1d8c", rot: Math.PI / 2 });
  T("Grasp Ensemble Units", 484, 1037, { size: 14, weight: "bold", family: SEMI, color: "#4b1d8c" });

  return {
    animation: false,
    backgroundColor: "#fff",
    textStyle: { fontFamily: FONT },
    grid, xAxis, yAxis, series, graphic,
    visualMap: [{ type: "continuous", show: false, min: 0.1, max: 0.8, seriesIndex: heatSeries, inRange: { color: VIRIDIS } }],
  };
}

export default function App() {
  const ref = useRef<HTMLDivElement>(null);
  useEffect(() => {
    document.body.style.margin = "0";
    const chart = echarts.init(ref.current!, null, { renderer: "svg" });
    chart.setOption(buildOption() as any);
    return () => chart.dispose();
  }, []);
  return <div ref={ref} style={{ width: 688, height: 1050 }} />;
}
